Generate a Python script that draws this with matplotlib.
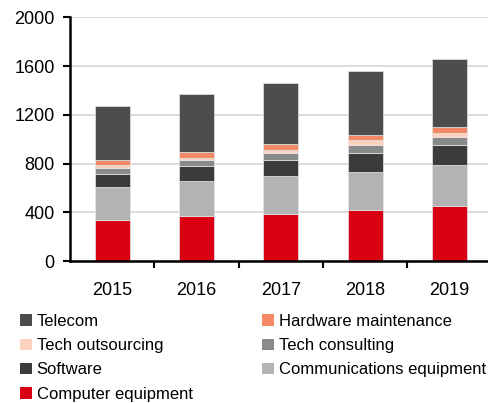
import matplotlib
matplotlib.use("Agg")
import matplotlib.pyplot as plt
from matplotlib.patches import Patch
import numpy as np

plt.rcParams['font.family'] = ['Liberation Sans', 'DejaVu Sans']

years = ["2015", "2016", "2017", "2018", "2019"]
computer_equipment = [340, 370, 386, 416, 449]
communications_equipment = [268, 288, 314, 317, 336]
software = [110, 125, 129, 156, 170]
tech_consulting = [48, 46, 60, 66, 63]
tech_outsourcing = [19, 16, 19, 35, 33]
hardware_maintenance = [44, 50, 50, 47, 49]
telecom = [443, 473, 506, 523, 555]

series = [
    ("Computer equipment", computer_equipment, "#d90014"),
    ("Communications equipment", communications_equipment, "#b3b3b3"),
    ("Software", software, "#3b3b3b"),
    ("Tech consulting", tech_consulting, "#8a8a8a"),
    ("Tech outsourcing", tech_outsourcing, "#fcd2bf"),
    ("Hardware maintenance", hardware_maintenance, "#f28a68"),
    ("Telecom", telecom, "#4d4d4d"),
]

fig = plt.figure(figsize=(4.89, 4.03), dpi=100)
ax = fig.add_axes([70/489, 142/403, 421.5/489, 243.7/403])

x = np.arange(len(years))
bottom = np.zeros(len(years))
handles = {}
for name, vals, col in series:
    ax.bar(x, vals, width=0.415, bottom=bottom, color=col,
           edgecolor="#e6e6e6", linewidth=0.5, zorder=3)
    bottom += np.array(vals)
    handles[name] = Patch(facecolor=col, edgecolor='none')

ax.set_xlim(-0.5, len(years) - 0.5)
ax.set_ylim(0, 2000)
ax.set_yticks([0, 400, 800, 1200, 1600, 2000])
ax.yaxis.grid(True, color="#d9d9d9", linewidth=1.3, zorder=0)
ax.set_axisbelow(True)

ax.set_xticks(x)
ax.set_xticklabels(years, fontsize=13)
ax.set_xticks(np.arange(len(years)) + 0.5, minor=True)
ax.tick_params(axis='x', which='major', length=0, pad=15)
ax.tick_params(axis='x', which='minor', length=5, width=1.5, direction='out')
ax.tick_params(axis='y', length=5, width=1.5, labelsize=13, pad=6)

for s in ['top', 'right']:
    ax.spines[s].set_visible(False)
for s in ['left', 'bottom']:
    ax.spines[s].set_linewidth(1.8)
    ax.spines[s].set_color('black')
    ax.spines[s].set_zorder(4)

order = ["Telecom", "Tech outsourcing", "Software", "Computer equipment",
         "Hardware maintenance", "Tech consulting", "Communications equipment"]
leg = fig.legend([handles[n] for n in order], order, ncol=2,
                 loc='upper left', bbox_to_anchor=(20/489, 1 - 314/403),
                 frameon=False, fontsize=12, handlelength=0.7, handleheight=0.7,
                 handletextpad=0.3, columnspacing=4.18, labelspacing=0.55,
                 borderaxespad=0, borderpad=0)

fig.savefig("out.png", dpi=100)
